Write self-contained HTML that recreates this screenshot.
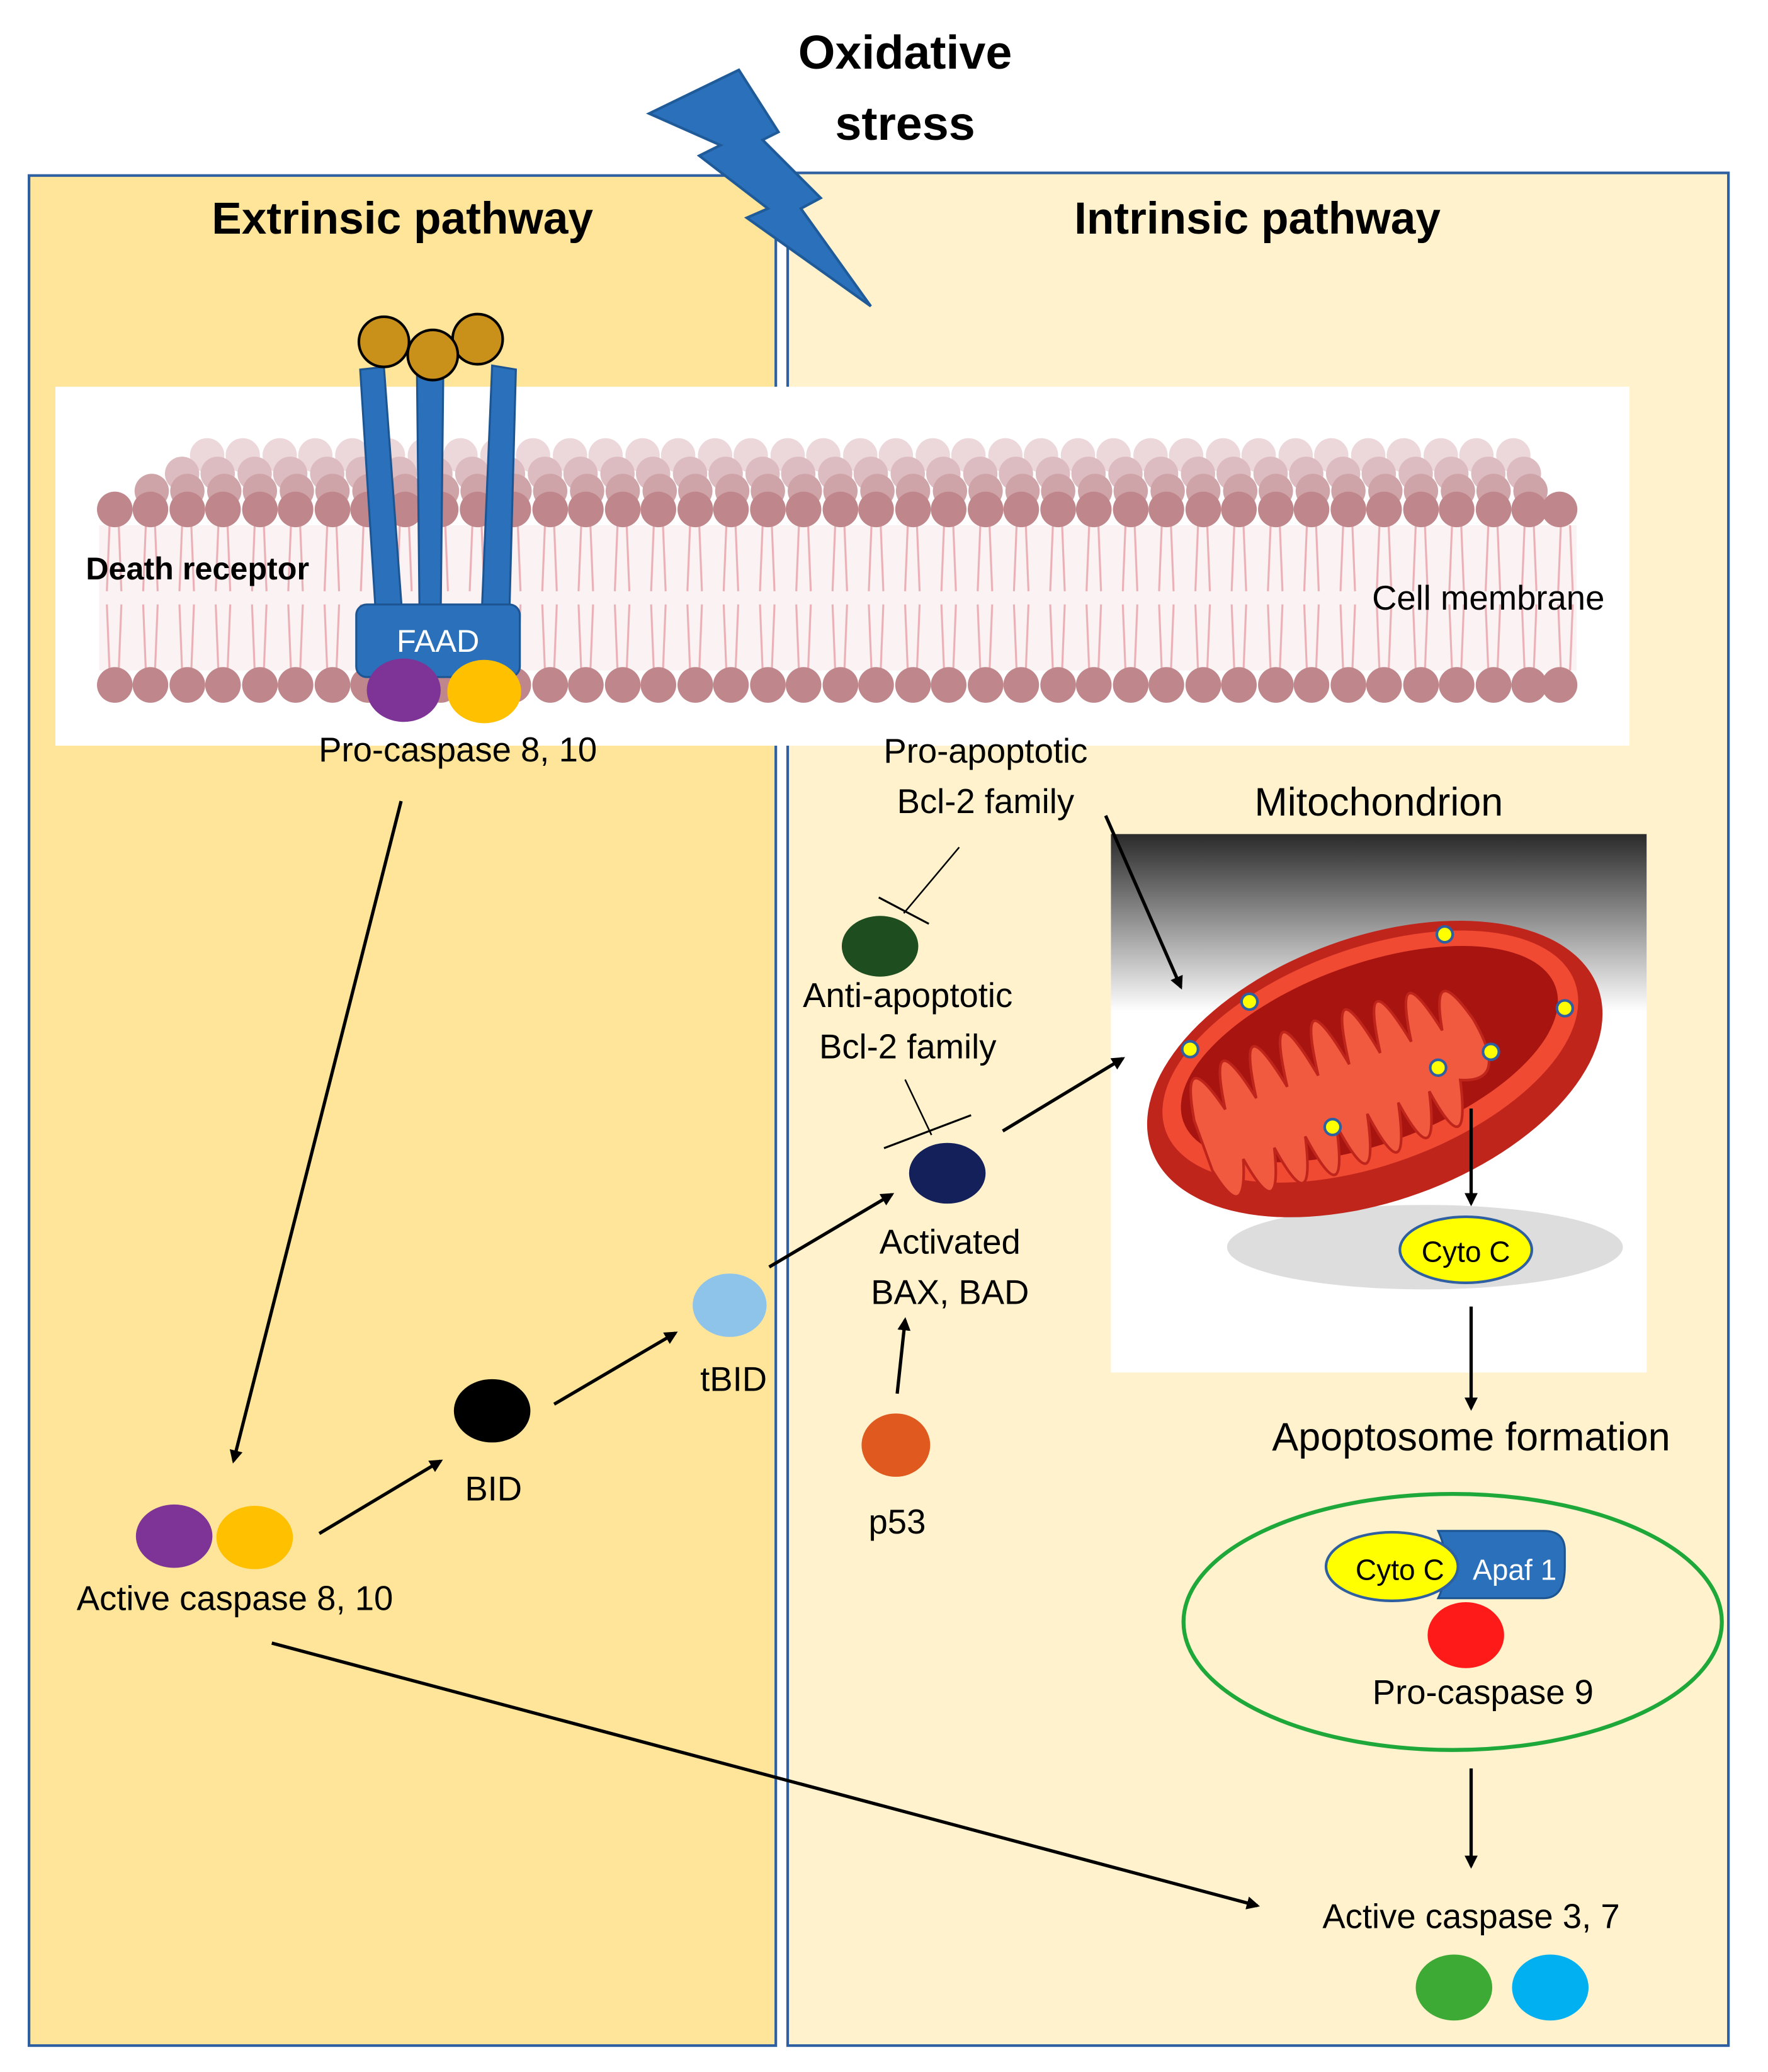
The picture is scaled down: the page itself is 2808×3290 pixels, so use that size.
<!DOCTYPE html>
<html><head><meta charset="utf-8">
<style>
html,body{margin:0;padding:0;background:#fff;}
svg{display:block;}
text{font-family:"Liberation Sans",sans-serif;}
</style></head>
<body>
<svg width="2808" height="3290" viewBox="0 0 1340 1570" xmlns="http://www.w3.org/2000/svg">
<defs>
<marker id="ah" markerWidth="10" markerHeight="10" refX="8" refY="5" orient="auto" markerUnits="userSpaceOnUse">
<path d="M0,0 L10,5 L0,10 z" fill="#000"/>
</marker>
<linearGradient id="mg" x1="0" y1="0" x2="0" y2="1">
<stop offset="0" stop-color="#2a2a2a"/><stop offset="0.33" stop-color="#ffffff"/><stop offset="1" stop-color="#ffffff"/>
</linearGradient>
<pattern id="lipT" x="73" y="398" width="27.5" height="110" patternUnits="userSpaceOnUse">
<path d="M10,0 L8,50 M17,0 L19,50 M8,60 L10,110 M19,60 L17,110" stroke="#eab0b6" stroke-width="1.5" fill="none"/>
</pattern>
</defs>
<rect width="1340" height="1570" fill="#fff"/>
<rect x="22" y="133" width="566" height="1417" fill="#FFE599" stroke="#2E5FA0" stroke-width="2"/>
<rect x="597" y="131" width="713" height="1419" fill="#FFF2CC" stroke="#2E5FA0" stroke-width="2"/>
<polygon points="492,86 560,53 590,100 578,106 622,150 607,158 660,232 566,165 582,158 530,118 546,110" fill="#2A70BA" stroke="#1f5a99" stroke-width="2"/>
<text x="686" y="52" font-size="36" font-weight="bold" text-anchor="middle">Oxidative</text>
<text x="686" y="106" font-size="36" font-weight="bold" text-anchor="middle">stress</text>
<text x="305" y="177" font-size="34" font-weight="bold" text-anchor="middle">Extrinsic pathway</text>
<text x="953" y="177" font-size="34" font-weight="bold" text-anchor="middle">Intrinsic pathway</text>
<rect x="42" y="293" width="1193" height="272" fill="#fff"/>
<g fill="#ead3d6" opacity="0.9">
<circle cx="157" cy="345" r="13"/><circle cx="184" cy="345" r="13"/><circle cx="212" cy="345" r="13"/><circle cx="239" cy="345" r="13"/><circle cx="267" cy="345" r="13"/><circle cx="294" cy="345" r="13"/><circle cx="322" cy="345" r="13"/><circle cx="349" cy="345" r="13"/><circle cx="377" cy="345" r="13"/><circle cx="404" cy="345" r="13"/><circle cx="432" cy="345" r="13"/><circle cx="459" cy="345" r="13"/><circle cx="487" cy="345" r="13"/><circle cx="514" cy="345" r="13"/><circle cx="542" cy="345" r="13"/><circle cx="569" cy="345" r="13"/><circle cx="597" cy="345" r="13"/><circle cx="624" cy="345" r="13"/><circle cx="652" cy="345" r="13"/><circle cx="679" cy="345" r="13"/><circle cx="707" cy="345" r="13"/><circle cx="734" cy="345" r="13"/><circle cx="762" cy="345" r="13"/><circle cx="789" cy="345" r="13"/><circle cx="817" cy="345" r="13"/><circle cx="844" cy="345" r="13"/><circle cx="872" cy="345" r="13"/><circle cx="899" cy="345" r="13"/><circle cx="927" cy="345" r="13"/><circle cx="954" cy="345" r="13"/><circle cx="982" cy="345" r="13"/><circle cx="1009" cy="345" r="13"/><circle cx="1037" cy="345" r="13"/><circle cx="1064" cy="345" r="13"/><circle cx="1092" cy="345" r="13"/><circle cx="1119" cy="345" r="13"/><circle cx="1147" cy="345" r="13"/>
</g>
<g fill="#dcbcc0">
<circle cx="138" cy="359" r="13"/><circle cx="165" cy="359" r="13"/><circle cx="193" cy="359" r="13"/><circle cx="220" cy="359" r="13"/><circle cx="248" cy="359" r="13"/><circle cx="275" cy="359" r="13"/><circle cx="303" cy="359" r="13"/><circle cx="330" cy="359" r="13"/><circle cx="358" cy="359" r="13"/><circle cx="385" cy="359" r="13"/><circle cx="413" cy="359" r="13"/><circle cx="440" cy="359" r="13"/><circle cx="468" cy="359" r="13"/><circle cx="495" cy="359" r="13"/><circle cx="523" cy="359" r="13"/><circle cx="550" cy="359" r="13"/><circle cx="578" cy="359" r="13"/><circle cx="605" cy="359" r="13"/><circle cx="633" cy="359" r="13"/><circle cx="660" cy="359" r="13"/><circle cx="688" cy="359" r="13"/><circle cx="715" cy="359" r="13"/><circle cx="743" cy="359" r="13"/><circle cx="770" cy="359" r="13"/><circle cx="798" cy="359" r="13"/><circle cx="825" cy="359" r="13"/><circle cx="853" cy="359" r="13"/><circle cx="880" cy="359" r="13"/><circle cx="908" cy="359" r="13"/><circle cx="935" cy="359" r="13"/><circle cx="963" cy="359" r="13"/><circle cx="990" cy="359" r="13"/><circle cx="1018" cy="359" r="13"/><circle cx="1045" cy="359" r="13"/><circle cx="1073" cy="359" r="13"/><circle cx="1100" cy="359" r="13"/><circle cx="1128" cy="359" r="13"/><circle cx="1155" cy="359" r="13"/>
</g>
<g fill="#cfa4a8">
<circle cx="115" cy="372" r="13"/><circle cx="142" cy="372" r="13"/><circle cx="170" cy="372" r="13"/><circle cx="197" cy="372" r="13"/><circle cx="225" cy="372" r="13"/><circle cx="252" cy="372" r="13"/><circle cx="280" cy="372" r="13"/><circle cx="307" cy="372" r="13"/><circle cx="335" cy="372" r="13"/><circle cx="362" cy="372" r="13"/><circle cx="390" cy="372" r="13"/><circle cx="417" cy="372" r="13"/><circle cx="445" cy="372" r="13"/><circle cx="472" cy="372" r="13"/><circle cx="500" cy="372" r="13"/><circle cx="527" cy="372" r="13"/><circle cx="555" cy="372" r="13"/><circle cx="582" cy="372" r="13"/><circle cx="610" cy="372" r="13"/><circle cx="637" cy="372" r="13"/><circle cx="665" cy="372" r="13"/><circle cx="692" cy="372" r="13"/><circle cx="720" cy="372" r="13"/><circle cx="747" cy="372" r="13"/><circle cx="775" cy="372" r="13"/><circle cx="802" cy="372" r="13"/><circle cx="830" cy="372" r="13"/><circle cx="857" cy="372" r="13"/><circle cx="885" cy="372" r="13"/><circle cx="912" cy="372" r="13"/><circle cx="940" cy="372" r="13"/><circle cx="967" cy="372" r="13"/><circle cx="995" cy="372" r="13"/><circle cx="1022" cy="372" r="13"/><circle cx="1050" cy="372" r="13"/><circle cx="1077" cy="372" r="13"/><circle cx="1105" cy="372" r="13"/><circle cx="1132" cy="372" r="13"/><circle cx="1160" cy="372" r="13"/>
</g>
<rect x="75" y="398" width="1120" height="110" fill="#fbf2f3"/>
<rect x="75" y="398" width="1120" height="110" fill="url(#lipT)"/>
<g fill="#bf878c">
<circle cx="87" cy="386" r="13.5"/><circle cx="114" cy="386" r="13.5"/><circle cx="142" cy="386" r="13.5"/><circle cx="169" cy="386" r="13.5"/><circle cx="197" cy="386" r="13.5"/><circle cx="224" cy="386" r="13.5"/><circle cx="252" cy="386" r="13.5"/><circle cx="279" cy="386" r="13.5"/><circle cx="307" cy="386" r="13.5"/><circle cx="334" cy="386" r="13.5"/><circle cx="362" cy="386" r="13.5"/><circle cx="389" cy="386" r="13.5"/><circle cx="417" cy="386" r="13.5"/><circle cx="444" cy="386" r="13.5"/><circle cx="472" cy="386" r="13.5"/><circle cx="499" cy="386" r="13.5"/><circle cx="527" cy="386" r="13.5"/><circle cx="554" cy="386" r="13.5"/><circle cx="582" cy="386" r="13.5"/><circle cx="609" cy="386" r="13.5"/><circle cx="637" cy="386" r="13.5"/><circle cx="664" cy="386" r="13.5"/><circle cx="692" cy="386" r="13.5"/><circle cx="719" cy="386" r="13.5"/><circle cx="747" cy="386" r="13.5"/><circle cx="774" cy="386" r="13.5"/><circle cx="802" cy="386" r="13.5"/><circle cx="829" cy="386" r="13.5"/><circle cx="857" cy="386" r="13.5"/><circle cx="884" cy="386" r="13.5"/><circle cx="912" cy="386" r="13.5"/><circle cx="939" cy="386" r="13.5"/><circle cx="967" cy="386" r="13.5"/><circle cx="994" cy="386" r="13.5"/><circle cx="1022" cy="386" r="13.5"/><circle cx="1049" cy="386" r="13.5"/><circle cx="1077" cy="386" r="13.5"/><circle cx="1104" cy="386" r="13.5"/><circle cx="1132" cy="386" r="13.5"/><circle cx="1159" cy="386" r="13.5"/><circle cx="1182" cy="386" r="13.5"/>
<circle cx="87" cy="519" r="13.5"/><circle cx="114" cy="519" r="13.5"/><circle cx="142" cy="519" r="13.5"/><circle cx="169" cy="519" r="13.5"/><circle cx="197" cy="519" r="13.5"/><circle cx="224" cy="519" r="13.5"/><circle cx="252" cy="519" r="13.5"/><circle cx="279" cy="519" r="13.5"/><circle cx="307" cy="519" r="13.5"/><circle cx="334" cy="519" r="13.5"/><circle cx="362" cy="519" r="13.5"/><circle cx="389" cy="519" r="13.5"/><circle cx="417" cy="519" r="13.5"/><circle cx="444" cy="519" r="13.5"/><circle cx="472" cy="519" r="13.5"/><circle cx="499" cy="519" r="13.5"/><circle cx="527" cy="519" r="13.5"/><circle cx="554" cy="519" r="13.5"/><circle cx="582" cy="519" r="13.5"/><circle cx="609" cy="519" r="13.5"/><circle cx="637" cy="519" r="13.5"/><circle cx="664" cy="519" r="13.5"/><circle cx="692" cy="519" r="13.5"/><circle cx="719" cy="519" r="13.5"/><circle cx="747" cy="519" r="13.5"/><circle cx="774" cy="519" r="13.5"/><circle cx="802" cy="519" r="13.5"/><circle cx="829" cy="519" r="13.5"/><circle cx="857" cy="519" r="13.5"/><circle cx="884" cy="519" r="13.5"/><circle cx="912" cy="519" r="13.5"/><circle cx="939" cy="519" r="13.5"/><circle cx="967" cy="519" r="13.5"/><circle cx="994" cy="519" r="13.5"/><circle cx="1022" cy="519" r="13.5"/><circle cx="1049" cy="519" r="13.5"/><circle cx="1077" cy="519" r="13.5"/><circle cx="1104" cy="519" r="13.5"/><circle cx="1132" cy="519" r="13.5"/><circle cx="1159" cy="519" r="13.5"/><circle cx="1182" cy="519" r="13.5"/>
</g>
<g fill="#2A70BA" stroke="#1c5592" stroke-width="1.5">
<polygon points="273,280 291,278 305,468 285,468"/>
<polygon points="316,280 336,280 334,468 318,468"/>
<polygon points="373,277 391,280 386,468 365,468"/>
<rect x="270" y="458" width="124" height="55" rx="8"/>
</g>
<g fill="#C9901A" stroke="#000" stroke-width="2">
<circle cx="291" cy="259" r="19"/><circle cx="362" cy="257" r="19"/><circle cx="328" cy="269" r="19"/>
</g>
<text x="332" y="494" font-size="24" fill="#fff" text-anchor="middle">FAAD</text>
<ellipse cx="306" cy="523" rx="28" ry="24" fill="#7E3496"/>
<ellipse cx="367" cy="524" rx="28" ry="24" fill="#FFC000"/>
<text x="65" y="439" font-size="24" font-weight="bold">Death receptor</text>
<text x="1128" y="462" font-size="26" text-anchor="middle">Cell membrane</text>
<text x="347" y="577" font-size="26" text-anchor="middle">Pro-caspase 8, 10</text>
<rect x="842" y="632" width="406" height="408" fill="url(#mg)"/>
<ellipse cx="1080" cy="945" rx="150" ry="32" fill="#ddd"/>
<g transform="rotate(-20 1042 810)">
<ellipse cx="1042" cy="810" rx="180" ry="100" fill="#c0251c"/>
<ellipse cx="1042" cy="800" rx="165" ry="82" fill="#f04a33"/>
<ellipse cx="1042" cy="798" rx="150" ry="68" fill="#a8140f"/>
<path d="M900,800 q10,-60 25,0 q10,-70 25,0 q10,-75 25,0 q10,-80 25,0 q10,-80 25,0 q10,-80 25,0 q10,-75 25,0 q10,-70 25,0 q10,-55 25,0 q10,55 -25,40 q-15,65 -25,0 q-15,65 -25,0 q-15,70 -25,0 q-15,70 -25,0 q-15,70 -25,0 q-15,65 -25,0 q-15,60 -25,0 q-15,50 -25,0 z" fill="#f25a40" stroke="#c0251c" stroke-width="2"/>
</g>
<g fill="#FFFF00" stroke="#2E5FA0" stroke-width="2">
<circle cx="1095" cy="708" r="6"/><circle cx="947" cy="759" r="6"/><circle cx="1186" cy="764" r="6"/><circle cx="902" cy="795" r="6"/><circle cx="1130" cy="797" r="6"/><circle cx="1090" cy="809" r="6"/><circle cx="1010" cy="854" r="6"/>
</g>
<text x="1045" y="618" font-size="30" text-anchor="middle">Mitochondrion</text>
<text x="747" y="578" font-size="26" text-anchor="middle">Pro-apoptotic</text>
<text x="747" y="616" font-size="26" text-anchor="middle">Bcl-2 family</text>
<line x1="727" y1="642" x2="685" y2="692" stroke="#000" stroke-width="1.2"/>
<line x1="666" y1="680" x2="704" y2="700" stroke="#000" stroke-width="1.5"/>
<ellipse cx="667" cy="717" rx="29" ry="23" fill="#1E4D20"/>
<text x="688" y="763" font-size="26" text-anchor="middle">Anti-apoptotic</text>
<text x="688" y="802" font-size="26" text-anchor="middle">Bcl-2 family</text>
<line x1="686" y1="818" x2="706" y2="860" stroke="#000" stroke-width="1.2"/>
<line x1="670" y1="870" x2="736" y2="845" stroke="#000" stroke-width="1.5"/>
<ellipse cx="718" cy="889" rx="29" ry="23" fill="#14205A"/>
<text x="720" y="950" font-size="26" text-anchor="middle">Activated</text>
<text x="720" y="988" font-size="26" text-anchor="middle">BAX, BAD</text>
<ellipse cx="679" cy="1095" rx="26" ry="24" fill="#E05A20"/>
<text x="680" y="1162" font-size="26" text-anchor="middle">p53</text>
<ellipse cx="132" cy="1164" rx="29" ry="24" fill="#7E3496"/>
<ellipse cx="193" cy="1165" rx="29" ry="24" fill="#FFC000"/>
<text x="178" y="1220" font-size="26" text-anchor="middle">Active caspase 8, 10</text>
<ellipse cx="373" cy="1069" rx="29" ry="24" fill="#000"/>
<text x="374" y="1137" font-size="26" text-anchor="middle">BID</text>
<ellipse cx="553" cy="989" rx="28" ry="24" fill="#8EC3EA"/>
<text x="556" y="1054" font-size="26" text-anchor="middle">tBID</text>
<ellipse cx="1111" cy="947" rx="50" ry="25" fill="#FFFF00" stroke="#2E5FA0" stroke-width="2"/>
<text x="1111" y="956" font-size="22" text-anchor="middle">Cyto C</text>
<text x="1115" y="1099" font-size="30" text-anchor="middle">Apoptosome formation</text>
<ellipse cx="1101" cy="1229" rx="204" ry="97" fill="none" stroke="#1FA83A" stroke-width="3"/>
<path d="M1090,1160 L1170,1160 q16,0 16,15 v12 q0,24 -16,24 L1090,1211 q12,-25 0,-51 z" fill="#2A70BA" stroke="#1c5592" stroke-width="1.5"/>
<text x="1148" y="1197" font-size="22" fill="#fff" text-anchor="middle">Apaf 1</text>
<ellipse cx="1055" cy="1187" rx="50" ry="26" fill="#FFFF00" stroke="#2E5FA0" stroke-width="2"/>
<text x="1061" y="1197" font-size="22" text-anchor="middle">Cyto C</text>
<ellipse cx="1111" cy="1239" rx="29" ry="25" fill="#FF1A1A"/>
<text x="1124" y="1291" font-size="26" text-anchor="middle">Pro-caspase 9</text>
<text x="1115" y="1461" font-size="26" text-anchor="middle">Active caspase 3, 7</text>
<ellipse cx="1102" cy="1506" rx="29" ry="25" fill="#3DAA35"/>
<ellipse cx="1175" cy="1506" rx="29" ry="25" fill="#00B0F0"/>
<g stroke="#000" stroke-width="2.5" fill="none" marker-end="url(#ah)">
<line x1="304" y1="607" x2="177" y2="1107"/>
<line x1="242" y1="1162" x2="334" y2="1107"/>
<line x1="420" y1="1064" x2="512" y2="1010"/>
<line x1="583" y1="960" x2="676" y2="905"/>
<line x1="760" y1="857" x2="851" y2="802"/>
<line x1="838" y1="618" x2="895" y2="748"/>
<line x1="680" y1="1056" x2="686" y2="1000"/>
<line x1="1115" y1="840" x2="1115" y2="912"/>
<line x1="1115" y1="990" x2="1115" y2="1067"/>
<line x1="1115" y1="1340" x2="1115" y2="1414"/>
<line x1="206" y1="1245" x2="953" y2="1444"/>
</g>
</svg>
</body></html>
